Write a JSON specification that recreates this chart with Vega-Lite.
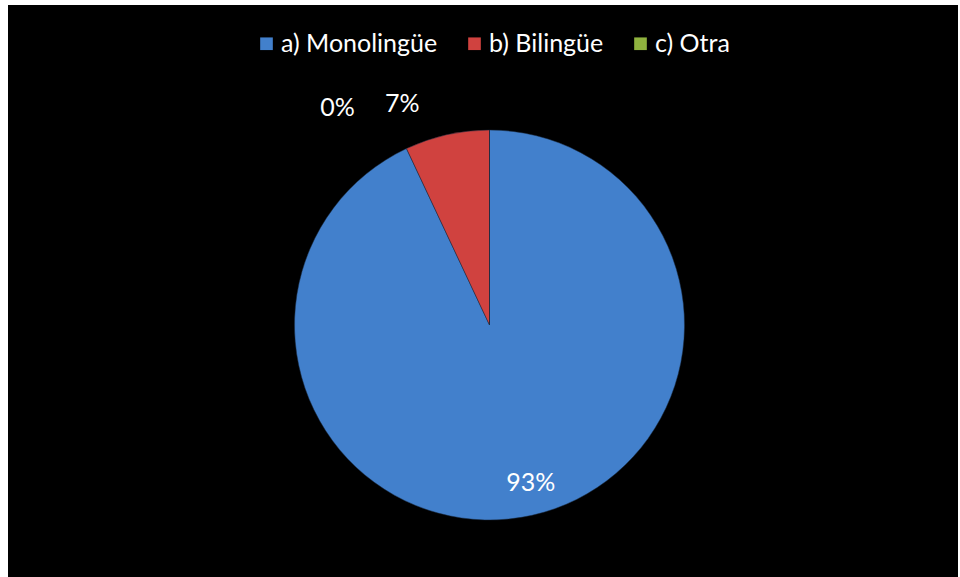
{
  "$schema": "https://vega.github.io/schema/vega-lite/v6.json",
  "width": 960,
  "height": 577,
  "autosize": {"type": "fit", "contains": "padding"},
  "padding": {"left": 8, "top": 5, "right": 2, "bottom": 0},
  "background": "white",
  "view": {"fill": "black", "stroke": null},
  "data": {
    "values": [
      {"cat": "a) Monolingüe", "value": 93, "label": "93%"},
      {"cat": "b) Bilingüe", "value": 7, "label": "7%"},
      {"cat": "c) Otra", "value": 0, "label": "0%"}
    ]
  },
  "encoding": {
    "theta": {"field": "value", "type": "quantitative", "stack": true},
    "order": {"field": "cat", "type": "nominal"},
    "x": {"value": 481.5},
    "y": {"value": 320}
  },
  "layer": [
    {
      "mark": {"type": "arc", "outerRadius": 195, "stroke": "#1a2a40", "strokeWidth": 0.5},
      "encoding": {
        "color": {
          "field": "cat",
          "type": "nominal",
          "scale": {"domain": ["a) Monolingüe", "b) Bilingüe", "c) Otra"], "range": ["#4280cc", "#d0423f", "#8fb23e"]},
          "legend": {
            "title": null,
            "orient": "none",
            "direction": "horizontal",
            "legendX": 246,
            "legendY": 26,
            "symbolType": "square",
            "symbolSize": 160,
            "symbolStrokeWidth": 0,
            "labelColor": "white",
            "labelFont": "Lato",
            "labelFontSize": 25,
            "labelOffset": 2,
            "columnPadding": 24,
            "labelLimit": 400
          }
        }
      }
    },
    {
      "mark": {
        "type": "text",
        "font": "Lato",
        "fontSize": 25,
        "color": "white",
        "radius": {"expr": "datum.value > 50 ? 162 : 226"},
        "dx": {"expr": "datum.cat == 'c) Otra' ? -152 : (datum.cat == 'b) Bilingüe' ? -38 : 6)"},
        "dy": {"expr": "datum.cat == 'c) Otra' ? 9 : 0"}
      },
      "encoding": {
        "text": {"field": "label"}
      }
    }
  ]
}
